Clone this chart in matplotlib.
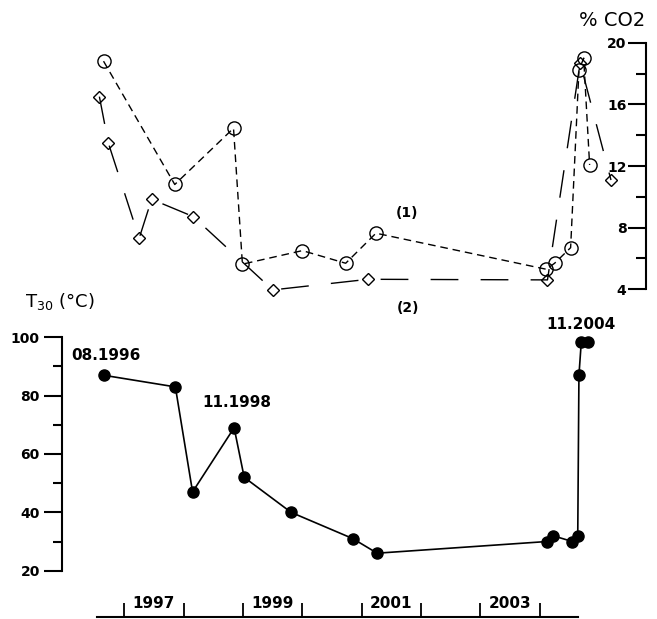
import matplotlib
matplotlib.use("Agg")
import matplotlib.pyplot as plt

plt.rcParams["font.family"] = "DejaVu Sans"

# --- data (decimal years) ---
co2_1_year = [1996.65, 1997.85, 1998.84, 1998.99, 2000.00, 2000.73, 2001.24,
              2004.11, 2004.25, 2004.52, 2004.66, 2004.74, 2004.84]
co2_1 = [18.8, 10.8, 14.45, 5.63, 6.51, 5.69, 7.64, 5.3, 5.69, 6.7, 18.2, 19.0, 12.07]

co2_2_year = [1996.58, 1996.73, 1997.25, 1997.46, 1998.16, 1999.50, 2001.11,
              2004.13, 2004.68, 2005.20]
co2_2 = [16.5, 13.5, 7.31, 9.84, 8.72, 3.96, 4.65, 4.61, 18.7, 11.09]

t30_year = [1996.65, 1997.86, 1998.15, 1998.85, 1999.02, 1999.81, 2000.85, 2001.26,
            2004.12, 2004.22, 2004.55, 2004.64, 2004.66, 2004.70, 2004.81]
t30 = [87, 83, 47, 69, 52, 40, 31, 26, 30, 32, 30, 32, 87, 98.5, 98.5]

year_ticks = [1997, 1998, 1999, 2000, 2001, 2002, 2003, 2004]
year_labels = ["1997", "1999", "2001", "2003"]
year_label_pos = [1997.5, 1999.5, 2001.5, 2003.5]

XLIM = (1995.95, 2005.79)
W, H = 657, 619

fig = plt.figure(figsize=(W / 100, H / 100), dpi=100)
fig.patch.set_facecolor("white")

# ---------------- top panel: %CO2 ----------------
axt = fig.add_axes([62 / W, (H - 289.3) / H, (646 - 62) / W, (289.3 - 42.7) / H])
axt.set_xlim(*XLIM); axt.set_ylim(4, 20)
for s in ("top", "bottom", "right"):
    axt.spines[s].set_visible(False)
axt.spines["left"].set_position(("axes", 1.0))
axt.spines["left"].set_linewidth(1.5)
axt.set_xticks([])
axt.set_yticks([4, 8, 12, 16, 20])
axt.set_yticks([6, 10, 14, 18], minor=True)
axt.tick_params(axis="y", which="major", length=13, width=1.5, pad=1, labelsize=10)
axt.tick_params(axis="y", which="minor", length=7, width=1.5)
for lab in axt.get_yticklabels():
    lab.set_fontweight("bold")
axt.patch.set_alpha(0)

axt.plot(co2_1_year, co2_1, color="black", lw=1.0, dashes=(5.5, 3.5),
         marker="o", ms=9.5, mfc="none", mec="black", mew=1.0, clip_on=False)
axt.plot(co2_2_year, co2_2, color="black", lw=1.0, dashes=(20, 16),
         marker="D", ms=6, mfc="none", mec="black", mew=1.0, clip_on=False)

axt.text(2001.76, 8.96, "(1)", fontsize=10, fontweight="bold", ha="center", va="center")
axt.text(2001.78, 2.8, "(2)", fontsize=10, fontweight="bold", ha="center", va="center",
         clip_on=False)
axt.text(2005.22, 21.47, "% CO2", fontsize=14, ha="center", va="center", clip_on=False)

# ---------------- bottom panel: T30 ----------------
axb = fig.add_axes([62 / W, (H - 617) / H, (646 - 62) / W, (617 - 337.3) / H])
axb.set_xlim(*XLIM); axb.set_ylim(4.13, 100)
for s in ("top", "right"):
    axb.spines[s].set_visible(False)
axb.spines["left"].set_bounds(20, 100)
axb.spines["bottom"].set_bounds(1996.54, 2004.65)
for s in ("left", "bottom"):
    axb.spines[s].set_linewidth(1.5)
axb.set_yticks([20, 40, 60, 80, 100])
axb.set_yticks([30, 50, 70, 90], minor=True)
axb.tick_params(axis="y", which="major", length=13, width=1.5, pad=3, labelsize=10)
axb.tick_params(axis="y", which="minor", length=6.5, width=1.5)
for lab in axb.get_yticklabels():
    lab.set_fontweight("bold")

axb.set_xticks(year_ticks)
axb.set_xticklabels([])
axb.set_xticks(year_label_pos, minor=True)
axb.set_xticklabels(year_labels, minor=True, fontsize=11, fontweight="bold")
axb.tick_params(axis="x", which="major", direction="in", length=10, width=1.3)
axb.tick_params(axis="x", which="minor", length=0, pad=-15)
axb.patch.set_alpha(0)

axb.plot(t30_year, t30, color="black", lw=1.2, marker="o", ms=8,
         mfc="black", mec="black", clip_on=False)

axb.text(1996.69, 93.6, "08.1996", fontsize=11, fontweight="bold", ha="center", va="center")
axb.text(1998.90, 77.6, "11.1998", fontsize=11, fontweight="bold", ha="center", va="center")
axb.text(2004.70, 104.5, "11.2004", fontsize=11, fontweight="bold", ha="center", va="center",
         clip_on=False)
axb.text(1995.92, 112.1, r"$\mathregular{T_{30}}$ (°C)", fontsize=13, ha="center",
         va="center", clip_on=False)

fig.savefig("out.png", dpi=100, facecolor="white")
